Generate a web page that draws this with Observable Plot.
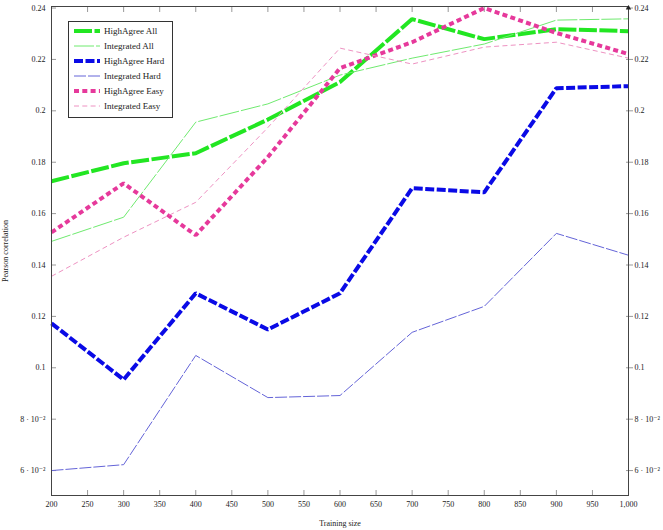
<!DOCTYPE html>
<html>
<head>
<meta charset="utf-8">
<script src="https://cdn.jsdelivr.net/npm/d3@7"></script>
<script src="https://cdn.jsdelivr.net/npm/@observablehq/plot@0.6"></script>
<style>
  body { margin: 0; background: #fff; }
  #chart { position: relative; width: 663px; height: 530px; font-family: "Liberation Serif", "DejaVu Serif", serif; }
  #chart svg { display: block; }
  #legend { position: absolute; left: 68px; top: 21px; width: 103px; height: 95px;
            border: 1px solid #333; background: #fff; font-size: 9px; color: #222; }
  #legend .row { display: flex; align-items: center; height: 15px; }
  #legend .row:first-child { margin-top: 1px; }
  #legend svg { margin-left: 5px; margin-right: 4px; }
</style>
</head>
<body>
<div id="chart"></div>
<script>
// Training sizes on the x axis
const sizes = [200, 300, 400, 500, 600, 700, 800, 900, 1000];

// Pearson correlation per training size, one list per model
const highAgreeAll   = [0.1726, 0.1796, 0.1835, 0.1966, 0.2112, 0.2357, 0.2279, 0.2318, 0.2310];
const integratedAll  = [0.1492, 0.1586, 0.1956, 0.2027, 0.2139, 0.2205, 0.2260, 0.2353, 0.2358];
const highAgreeHard  = [0.1173, 0.0954, 0.1290, 0.1149, 0.1290, 0.1699, 0.1683, 0.2088, 0.2096];
const integratedHard = [0.0600, 0.0623, 0.1048, 0.0884, 0.0892, 0.1138, 0.1239, 0.1523, 0.1438];
const highAgreeEasy  = [0.1527, 0.1718, 0.1516, 0.1820, 0.2166, 0.2267, 0.2400, 0.2303, 0.2221];
const integratedEasy = [0.1356, 0.1508, 0.1644, 0.1935, 0.2244, 0.2182, 0.2248, 0.2267, 0.2205];

// Axis ticks
const xTicks = [200, 250, 300, 350, 400, 450, 500, 550, 600, 650, 700, 750, 800, 850, 900, 950, 1000];
const yTicks = [0.06, 0.08, 0.1, 0.12, 0.14, 0.16, 0.18, 0.2, 0.22, 0.24];
const yTickLabels = ["6 · 10⁻²", "8 · 10⁻²", "0.1", "0.12", "0.14", "0.16", "0.18", "0.2", "0.22", "0.24"];

const xDomain = [200, 1000];
const yDomain = [0.0503, 0.2406];

const series = [
  {name: "HighAgree All",   values: highAgreeAll,   stroke: "#22e622", width: 4,   dash: "18,2.5"},
  {name: "Integrated All",  values: integratedAll,  stroke: "#6fea6f", width: 1,   dash: "20,2"},
  {name: "HighAgree Hard",  values: highAgreeHard,  stroke: "#0a0ae6", width: 4,   dash: "9,2.5"},
  {name: "Integrated Hard", values: integratedHard, stroke: "#6464d8", width: 1,   dash: "12,2"},
  {name: "HighAgree Easy",  values: highAgreeEasy,  stroke: "#e6399b", width: 4,   dash: "5,3.3"},
  {name: "Integrated Easy", values: integratedEasy, stroke: "#ee92c2", width: 1,   dash: "5,3.3"}
];

const rows = series.flatMap(s => sizes.map((x, i) => ({series: s.name, size: x, value: s.values[i]})));

const yFormat = d => yTickLabels[yTicks.indexOf(d)];
const noText = () => "";
const tickColor = "#999";

const plot = Plot.plot({
  width: 663,
  height: 530,
  marginLeft: 51,
  marginRight: 35,
  marginTop: 6,
  marginBottom: 35,
  style: {fontFamily: "'Liberation Serif', 'DejaVu Serif', serif", fontSize: "8px", color: "#222", background: "transparent"},
  x: {domain: xDomain},
  y: {domain: yDomain},
  marks: [
    // tick marks pointing into the plot
    Plot.axisX(xTicks, {anchor: "bottom", tickSize: -5, stroke: tickColor, tickFormat: noText, label: null}),
    Plot.axisX(xTicks, {anchor: "top", tickSize: -5, stroke: tickColor, tickFormat: noText, label: null}),
    Plot.axisY(yTicks, {anchor: "left", tickSize: -5, stroke: tickColor, tickFormat: noText, label: null}),
    Plot.axisY(yTicks, {anchor: "right", tickSize: 4, stroke: tickColor, tickFormat: noText, label: null}),
    Plot.axisY(yTicks, {anchor: "right", tickSize: -3, stroke: tickColor, tickFormat: noText, label: null}),
    // tick labels and axis titles
    Plot.axisX(xTicks, {anchor: "bottom", tickSize: 0, tickPadding: 6, tickFormat: d3.format(","),
      label: "Training size", labelArrow: "none", labelAnchor: "center", labelOffset: 30}),
    Plot.axisY(yTicks, {anchor: "left", tickSize: 0, tickPadding: 6, tickFormat: yFormat,
      label: "Pearson correlation", labelArrow: "none", labelAnchor: "center", labelOffset: 49}),
    Plot.axisY(yTicks, {anchor: "right", tickSize: 0, tickPadding: 6, tickFormat: yFormat, label: null}),
    ...series.map(s => Plot.line(rows.filter(r => r.series === s.name), {
      x: "size", y: "value", stroke: s.stroke, strokeWidth: s.width,
      strokeDasharray: s.dash, strokeLinecap: "butt", strokeLinejoin: "miter"
    })),
    Plot.frame({stroke: "#444", strokeWidth: 1}),
    Plot.dot([{x: xDomain[1], y: yDomain[1]}], {x: "x", y: "y", symbol: "triangle", r: 2, fill: "#222", stroke: null, dy: 1.5})
  ]
});

const chart = document.getElementById("chart");
chart.appendChild(plot);

// Legend box inside the plot area
const legend = d3.select(chart).append("div").attr("id", "legend");
series.forEach(s => {
  const row = legend.append("div").attr("class", "row");
  const svg = row.append("svg").attr("width", 26).attr("height", 6);
  svg.append("line").attr("x1", 0).attr("x2", 26).attr("y1", 3).attr("y2", 3)
    .attr("stroke", s.stroke).attr("stroke-width", s.width).attr("stroke-dasharray", s.dash);
  row.append("span").text(s.name);
});
</script>
</body>
</html>
